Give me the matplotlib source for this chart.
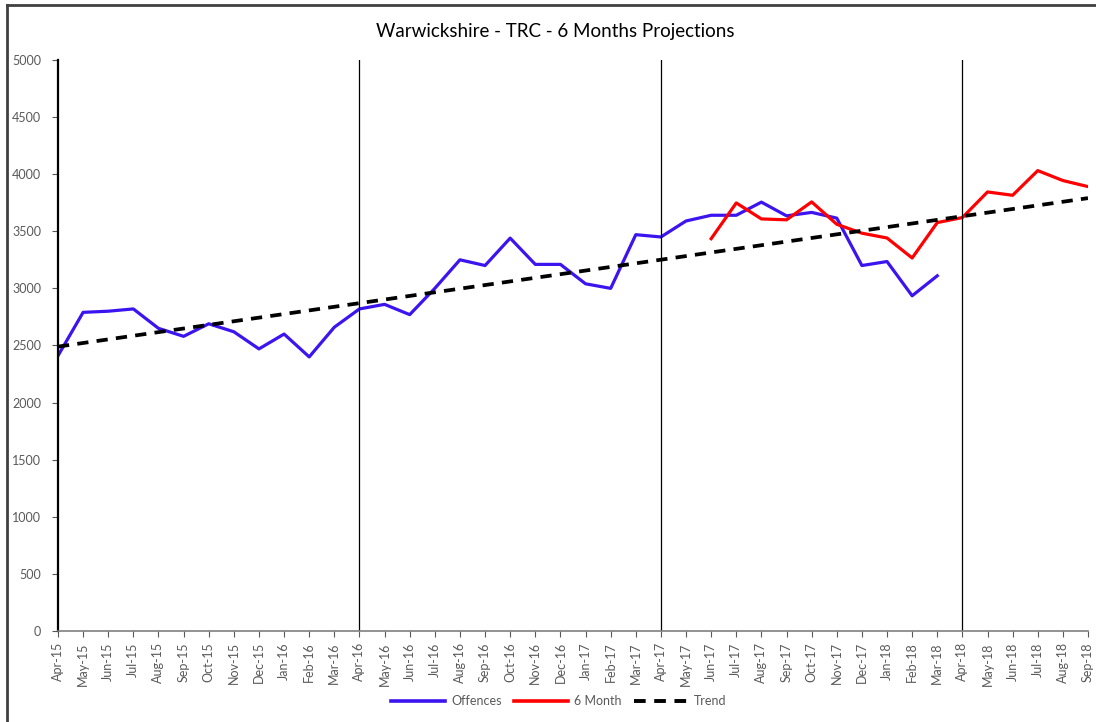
import matplotlib.pyplot as plt
from matplotlib.lines import Line2D

plt.rcParams['font.family'] = ['Lato', 'DejaVu Sans']

months = ["Apr-15", "May-15", "Jun-15", "Jul-15", "Aug-15", "Sep-15", "Oct-15", "Nov-15",
          "Dec-15", "Jan-16", "Feb-16", "Mar-16", "Apr-16", "May-16", "Jun-16", "Jul-16",
          "Aug-16", "Sep-16", "Oct-16", "Nov-16", "Dec-16", "Jan-17", "Feb-17", "Mar-17",
          "Apr-17", "May-17", "Jun-17", "Jul-17", "Aug-17", "Sep-17", "Oct-17", "Nov-17",
          "Dec-17", "Jan-18", "Feb-18", "Mar-18", "Apr-18", "May-18", "Jun-18", "Jul-18",
          "Aug-18", "Sep-18"]

offences = [2410, 2790, 2800, 2820, 2650, 2580, 2690, 2620, 2470, 2600, 2400, 2660,
            2820, 2860, 2770, 3000, 3250, 3200, 3440, 3210, 3210, 3040, 3000, 3470,
            3450, 3590, 3640, 3640, 3755, 3635, 3665, 3615, 3200, 3235, 2935, 3110]

# 6 month projection starts at Jun-17
proj_start = 26
projection = [3435, 3748, 3608, 3600, 3757, 3561, 3483, 3441, 3266, 3576, 3620,
              3844, 3815, 4031, 3944, 3891]

# trend line end points (Apr-15, Sep-18)
trend_x = [0, 41]
trend_y = [2490, 3790]

year_lines = [12, 24, 36]

fig = plt.figure(figsize=(10.96, 7.22), dpi=100)
ax = fig.add_axes([0.0529, 0.126, 0.9398, 0.791])

ax.plot(range(len(offences)), offences, color="#3c14f0", lw=2.3, solid_joinstyle="round")
ax.plot(range(proj_start, proj_start + len(projection)), projection, color="#ff0000", lw=2.3,
        solid_joinstyle="round")
ax.plot(trend_x, trend_y, color="black", lw=2.7, dashes=(3, 2.2))

for x in year_lines:
    ax.axvline(x, color="black", lw=0.9)

ax.set_xlim(0, len(months) - 1)
ax.set_ylim(0, 5000)
ax.set_yticks(range(0, 5001, 500))
ax.set_xticks(range(len(months)))
ax.set_xticklabels(months, rotation=90)
ax.tick_params(axis="both", labelsize=9, labelcolor="#595959", length=4, direction="out",
               colors="#595959")
ax.tick_params(axis="y", pad=8)
ax.tick_params(axis="x", pad=4)

for s in ["top", "right"]:
    ax.spines[s].set_visible(False)
ax.spines["left"].set_color("black")
ax.spines["left"].set_linewidth(1.6)
ax.spines["bottom"].set_color("#7f7f7f")
ax.spines["bottom"].set_linewidth(1.2)

fig.text(0.507, 0.957, "Warwickshire - TRC - 6 Months Projections", ha="center", va="center",
         fontsize=13.5, color="black")

handles = [Line2D([], [], color="#3c14f0", lw=2.6),
           Line2D([], [], color="#ff0000", lw=2.6),
           Line2D([], [], color="black", lw=2.8, dashes=(3, 2.2))]
leg = fig.legend(handles, ["Offences", "6 Month", "Trend"], loc="center", ncol=3,
                 bbox_to_anchor=(0.51, 0.029), frameon=False, fontsize=9,
                 handlelength=4.3, columnspacing=1.0, handletextpad=0.5)
for t in leg.get_texts():
    t.set_color("#595959")

# chart border (top and left edges visible)
fig.add_artist(Line2D([0.006, 1.0], [0.9935, 0.9935], transform=fig.transFigure,
                      color="#404040", lw=2))
fig.add_artist(Line2D([0.006, 0.006], [0.0, 0.9935], transform=fig.transFigure,
                      color="#404040", lw=2))

fig.savefig("out.png", dpi=100)
